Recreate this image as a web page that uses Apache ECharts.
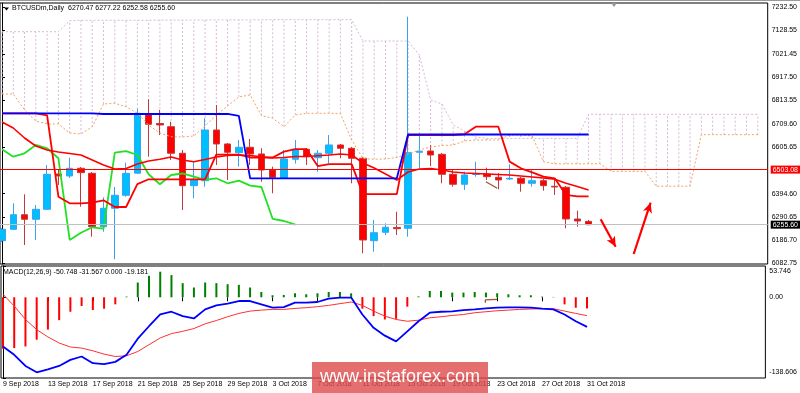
<!DOCTYPE html>
<html><head><meta charset="utf-8">
<script src="https://cdn.jsdelivr.net/npm/echarts@6/dist/echarts.min.js"></script>
<style>html,body{margin:0;padding:0;background:#fff}#c{width:800px;height:393px}</style>
</head><body><div id="c"></div>
<script>
// ---------- data ----------
const symbolTitle = 'BTCUSDm,Daily  6270.47 6277.22 6252.58 6255.60';
const macdTitle = 'MACD(12,26,9) -50.748 -31.567 0.000 -19.181';
const tickIdx = [0,4,8,12,16,20,24,28,32,36,40,44,48,52];
const tickLabels = ['9 Sep 2018','13 Sep 2018','17 Sep 2018','21 Sep 2018','25 Sep 2018','29 Sep 2018','3 Oct 2018','7 Oct 2018','11 Oct 2018','15 Oct 2018','19 Oct 2018','23 Oct 2018','27 Oct 2018','31 Oct 2018'];
const priceTicks = [7232.50,7128.55,7021.45,6917.50,6813.55,6709.60,6605.65,6394.60,6290.65,6186.70,6082.75];
const macdTicks = [53.746, 0, -138.606];
const macdTickLabels = ['53.746','0.00','-138.606'];
const resistanceLevel = 6503.08;
const bidPrice = 6255.60;

const open  = [6183.6,6234.8,6300.4,6279.8,6324.7,6483.3,6474.4,6509.0,6486.5,6246.5,6329.2,6387.6,6487.0,6751.6,6710.3,6695.9,6576.4,6430.8,6453.2,6681.1,6618.2,6579.1,6603.3,6573.2,6501.3,6464.0,6549.4,6594.3,6556.6,6576.4,6613.7,6598.8,6553.9,6183.6,6221.3,6242.9,6239.3,6580.9,6586.7,6571.9,6482.0,6437.1,6481.1,6483.3,6468.5,6460.9,6464.0,6441.5,6453.2,6428.1,6423.6,6281.1,6270.47];
const high  = [6240.7,6351.7,6392.1,6344.0,6523.8,6501.3,6556.6,6514.8,6492.3,6378.6,6424.9,6534.1,6775.5,6819.0,6771.0,6718.4,6591.2,6538.6,6733.6,6793.4,6622.7,6636.1,6640.6,6598.8,6516.2,6591.2,6636.1,6600.2,6591.2,6658.6,6618.2,6604.7,6559.7,6276.6,6261.8,6313.9,7190.3,6663.1,6613.7,6577.7,6504.5,6493.7,6538.6,6511.7,6486.5,6526.9,6469.9,6504.5,6460.9,6456.4,6429.4,6318.4,6277.22];
const low   = [6177.7,6231.7,6164.3,6186.7,6321.6,6433.9,6465.4,6336.4,6201.6,6224.0,6100.0,6381.3,6484.0,6561.1,6658.6,6546.3,6321.6,6374.2,6426.3,6523.8,6456.4,6516.2,6523.8,6448.7,6396.6,6460.9,6530.0,6523.8,6493.7,6531.4,6553.9,6441.5,6127.0,6134.2,6209.2,6209.2,6201.6,6509.0,6519.3,6441.5,6426.3,6411.4,6471.2,6456.4,6414.6,6456.4,6403.8,6426.3,6408.3,6389.0,6239.3,6246.5,6252.58];
const close = [6234.8,6300.4,6279.8,6324.7,6482.0,6474.4,6509.0,6489.2,6246.5,6329.2,6387.6,6486.5,6756.1,6706.7,6703.6,6576.4,6430.8,6456.4,6681.1,6618.2,6580.9,6603.3,6573.2,6501.3,6468.5,6550.8,6594.3,6561.1,6576.4,6613.7,6598.8,6553.9,6186.7,6219.5,6243.8,6237.5,6579.1,6585.8,6568.7,6482.0,6437.1,6478.8,6485.6,6471.2,6456.4,6464.0,6441.5,6453.2,6430.8,6424.9,6281.1,6272.1,6255.60];

const tenkan = [6756.1,6756.1,6756.1,6756.1,6747.0,6381.3,6351.7,6351.7,6355.0,6365.0,6335.0,6335.0,6437.8,6459.5,6459.5,6459.5,6459.5,6459.5,6459.5,6570.3,6570.3,6570.3,6557.5,6557.5,6557.5,6583.8,6595.0,6595.0,6518.6,6527.6,6527.6,6527.6,6392.8,6392.8,6392.8,6392.8,6658.6,6658.6,6658.6,6658.6,6658.6,6662.0,6695.8,6695.8,6695.8,6538.8,6508.8,6490.8,6471.2,6463.8,6389.0,6383.1,6383.1];
const kijun = [6756.1,6756.1,6756.1,6756.1,6756.1,6756.1,6756.1,6756.1,6756.1,6753.0,6753.0,6753.0,6753.0,6753.0,6753.0,6753.0,6753.0,6753.0,6753.0,6753.0,6753.0,6744.0,6464.0,6464.0,6464.0,6464.0,6464.0,6464.0,6464.0,6464.0,6464.0,6464.0,6464.0,6464.0,6464.0,6464.0,6660.9,6660.9,6660.9,6660.9,6660.9,6660.9,6660.9,6660.9,6660.9,6660.9,6660.9,6660.9,6660.9,6660.9,6660.9,6660.9,6660.9];
const movingAvg = [6717.0,6690.1,6645.1,6609.2,6591.2,6582.2,6575.5,6568.7,6546.3,6523.8,6505.8,6508.1,6528.3,6541.8,6549.4,6559.7,6546.3,6538.6,6548.5,6559.7,6566.5,6568.7,6566.5,6561.1,6555.2,6557.5,6562.0,6562.0,6565.6,6568.7,6573.2,6568.7,6532.8,6510.3,6483.3,6456.4,6492.3,6505.8,6508.1,6501.3,6492.3,6487.8,6485.6,6483.3,6481.1,6478.8,6474.4,6469.9,6465.4,6459.5,6441.5,6427.2,6411.4];
const spanA = [6842.9,6842.9,6771.0,6721.5,6708.1,6708.1,6667.6,6663.1,6694.6,6797.9,6801.1,6785.8,6756.1,6703.6,6666.2,6651.0,6649.6,6654.1,6699.1,6748.5,6788.9,6830.0,6838.4,6746.0,6733.7,6696.0,6748.5,6756.1,6756.1,6756.1,6755.2,6636.1,6553.0,6549.4,6550.8,6557.5,6573.2,6591.2,6604.7,6611.4,6613.7,6631.6,6636.1,6636.1,6636.1,6658.6,6658.6,6654.1,6538.6,6529.0,6529.0,6529.0,6529.0,6529.5,6495.0,6495.0,6495.0,6495.0,6428.4,6428.4,6428.4,6428.4,6660.0,6660.0,6660.0,6660.0,6660.0,6660.0];
const spanB = [7122.8,7122.8,7122.8,7122.8,7122.8,7122.8,7172.3,7174.0,7174.0,7174.0,7174.0,7174.0,7174.0,7174.0,7175.0,7175.0,7175.0,7175.0,7175.0,7176.0,7176.0,7176.0,7176.0,7176.0,7177.0,7177.0,7177.0,7177.0,7177.0,7177.0,7177.0,7177.0,7081.0,7081.0,7081.0,7081.0,7081.0,7018.1,6815.9,6797.9,6703.6,6676.6,6649.6,6643.0,6643.0,6643.0,6643.0,6643.0,6643.0,6643.0,6643.0,6643.0,6751.6,6751.6,6751.6,6751.6,6751.6,6751.6,6751.6,6751.6,6751.6,6751.6,6751.6,6751.6,6751.6,6751.6,6751.6,6751.6];
const chikouShift = 26;

const macdMain = [-84.4,-98.8,-117.9,-128.8,-123.6,-117.9,-107.5,-101.7,-113.2,-114.9,-110.9,-98.8,-71.1,-49.7,-29.5,-24.8,-32.4,-36.4,-20.8,-13.9,-10.9,-6.4,-6.4,-12.1,-17.9,-16.8,-9.2,-9.2,-8.1,-2.3,-0.5,-0.5,-29.5,-52.5,-65.9,-75.7,-58.4,-41.1,-26.5,-24.8,-24.3,-21.9,-20.8,-19.1,-17.9,-17.3,-17.3,-17.9,-19.6,-20.8,-29.5,-41.1,-50.748];
const macdSignal = [5.2,-15.0,-38.1,-55.5,-68.1,-78.5,-85.4,-87.2,-91.9,-97.6,-101.7,-100.5,-93.1,-81.5,-69.8,-62.4,-58.4,-53.7,-45.6,-39.9,-33.4,-27.7,-23.7,-22.0,-20.8,-20.8,-19.1,-17.9,-16.1,-13.9,-10.9,-8.1,-13.9,-23.7,-32.4,-38.1,-41.1,-39.3,-35.2,-33.4,-31.2,-29.5,-26.5,-24.8,-23.1,-22.0,-20.8,-20.2,-19.6,-19.6,-23.7,-27.7,-31.567];
const macdHist = [-88.4,-87.2,-84.4,-72.8,-55.5,-39.3,-24.8,-15.0,-21.9,-19.6,-12.1,1.2,25.4,36.9,43.9,38.1,24.3,16.8,25.4,24.3,22.5,21.4,16.8,9.2,3.5,4.0,6.9,5.2,6.9,9.2,9.2,6.9,-19.6,-32.3,-38.1,-37.0,-16.1,1.5,10.9,10.9,8.1,8.1,9.2,8.1,6.9,5.2,3.5,3.5,1.2,0.6,-12.1,-17.9,-19.181];

// drawn objects (data coordinates: bar index, price)
const arrowDown = [[53.07,6279.8],[54.4,6156.6]];
const arrowUp = [[56.0,6123.8],[57.5,6354.4]];
const trendMain = [[42.9,6448.7],[43.9,6419.0]];
const trendMacd = [[42.95,-9.3],[42.95,-4.6],[44.0,-3.4]];

// ---------- chart ----------
const FONT = '"Liberation Sans", Arial, sans-serif';
const XMIN = -0.177, XMAX = 67.88;
const pairs = (arr, off) => arr.map((v, i) => [i + (off || 0), v]);
const chikou = close.slice(chikouShift).map((v, i) => [i, v]);

const chart = echarts.init(document.getElementById('c'));
chart.setOption({
  animation: false,
  backgroundColor: '#fff',
  textStyle: { fontFamily: FONT },
  grid: [
    { left: 0, right: 31, top: 3, height: 261, show: true, borderColor: '#000', borderWidth: 1 },
    { left: 0, right: 31, top: 266, height: 112, show: true, borderColor: '#000', borderWidth: 1 }
  ],
  xAxis: [
    { type: 'value', gridIndex: 0, min: XMIN, max: XMAX, show: false },
    { type: 'value', gridIndex: 1, min: XMIN, max: XMAX,
      axisLine: { show: false }, splitLine: { show: false },
      axisTick: { show: true, customValues: tickIdx, length: 4, lineStyle: { color: '#000' } },
      axisLabel: { customValues: tickIdx, align: 'left', margin: 3, fontSize: 7, color: '#000', fontFamily: FONT,
        formatter: v => tickLabels[Math.round(v / 4)] } }
  ],
  yAxis: [
    { type: 'value', gridIndex: 0, position: 'right', min: 6078.8, max: 7251.8,
      splitLine: { show: false },
      axisLine: { show: true, lineStyle: { color: '#000' } },
      axisTick: { show: true, customValues: priceTicks, length: 3, lineStyle: { color: '#000' } },
      axisLabel: { customValues: priceTicks, margin: 4, fontSize: 7, color: '#000', fontFamily: FONT,
        formatter: v => v.toFixed(2) } },
    { type: 'value', gridIndex: 1, position: 'right', min: -138.606, max: 53.746,
      splitLine: { show: false },
      axisLine: { show: true, lineStyle: { color: '#000' } },
      axisTick: { show: true, customValues: macdTicks, length: 3, lineStyle: { color: '#000' } },
      axisLabel: { customValues: macdTicks, margin: 4, fontSize: 7, color: '#000', fontFamily: FONT,
        formatter: v => {
          const k = macdTicks.findIndex(t => Math.abs(t - v) < 1e-6);
          const s = macdTickLabels[k];
          return k === 0 ? '{top|' + s + '}' : (k === 2 ? '{bot|' + s + '}' : s);
        },
        rich: {
          top: { fontSize: 7, color: '#000', fontFamily: FONT, padding: [11, 0, 0, 0] },
          bot: { fontSize: 7, color: '#000', fontFamily: FONT, padding: [0, 0, 11, 0] }
        } } }
  ],
  graphic: [
    { type: 'line', shape: { x1: 0, y1: 0.5, x2: 800, y2: 0.5 }, style: { stroke: '#999', lineWidth: 1 }, silent: true },
    { type: 'polygon', shape: { points: [[611, 3], [617, 3], [614, 7]] }, style: { fill: '#999' }, silent: true },
    { type: 'polygon', shape: { points: [[4, 7.5], [9, 7.5], [6.5, 10.5]] }, style: { fill: '#000' }, silent: true },
    { type: 'text', left: 12, top: 5, style: { text: symbolTitle, font: '7px ' + FONT, fill: '#000' }, silent: true },
    { type: 'text', left: 3, top: 269, style: { text: macdTitle, font: '7px ' + FONT, fill: '#000' }, silent: true },
    { type: 'rect', shape: { x: 312, y: 362, width: 176, height: 31 }, style: { fill: 'rgba(222,74,74,0.8)' }, z: 100, silent: true },
    { type: 'text', x: 400, y: 377, z: 101, style: { text: 'www.instaforex.com', font: '18px ' + FONT, fill: '#fff', align: 'center', verticalAlign: 'middle' }, silent: true }
  ],
  series: [
    { type: 'custom', name: 'cloud', xAxisIndex: 0, yAxisIndex: 0, silent: true,
      data: spanA.map((a, i) => [i, a, spanB[i]]),
      renderItem: (params, api) => {
        const i = api.value(0), a = api.value(1), b = api.value(2);
        const p1 = api.coord([i, a]), p2 = api.coord([i, b]);
        return { type: 'line', shape: { x1: p1[0], y1: p1[1], x2: p2[0], y2: p2[1] },
          style: { stroke: b >= a ? '#D8B8D8' : '#F4A460', lineWidth: 1, lineDash: [2, 2] } };
      },
      markLine: { silent: true, symbol: ['none', 'none'], animation: false,
        data: [
          { yAxis: resistanceLevel, lineStyle: { color: '#FF0000', width: 1, type: 'solid' },
            label: { show: true, position: 'end', distance: 3, formatter: () => resistanceLevel.toFixed(2), color: '#fff', backgroundColor: '#FF0000', padding: [1, 2, 0, 2], fontSize: 7, fontFamily: FONT } },
          { yAxis: bidPrice, lineStyle: { color: '#C0C0C0', width: 1, type: 'solid' },
            label: { show: true, position: 'end', distance: 3, formatter: () => bidPrice.toFixed(2), color: '#fff', backgroundColor: '#000', padding: [1, 2, 0, 2], fontSize: 7, fontFamily: FONT } }
        ] } },
    { type: 'line', name: 'spanA', xAxisIndex: 0, yAxisIndex: 0, data: pairs(spanA), showSymbol: false, silent: true,
      lineStyle: { color: '#F4A460', width: 1, type: [2, 2] } },
    { type: 'line', name: 'spanB', xAxisIndex: 0, yAxisIndex: 0, data: pairs(spanB), showSymbol: false, silent: true,
      lineStyle: { color: '#D8B8D8', width: 1, type: [2, 2] } },
    { type: 'candlestick', name: 'BTCUSDm', xAxisIndex: 0, yAxisIndex: 0, barWidth: 7,
      data: open.map((o, i) => [i, o, close[i], low[i], high[i]]),
      itemStyle: { color: '#00BFFF', color0: '#FF0000', borderColor: '#3AA2F2', borderColor0: '#C43A3A', borderWidth: 1 } },
    { type: 'line', name: 'chikou', xAxisIndex: 0, yAxisIndex: 0, data: chikou, showSymbol: false, silent: true,
      lineStyle: { color: '#22E022', width: 1.8 } },
    { type: 'line', name: 'ma', xAxisIndex: 0, yAxisIndex: 0, data: pairs(movingAvg), showSymbol: false, silent: true,
      lineStyle: { color: '#FF0000', width: 1.6 } },
    { type: 'line', name: 'tenkan', xAxisIndex: 0, yAxisIndex: 0, data: pairs(tenkan), showSymbol: false, silent: true,
      lineStyle: { color: '#FF0000', width: 1.8 },
      markLine: { silent: true, animation: false, symbol: ['none', 'arrow'], symbolSize: [7, 10],
        lineStyle: { color: '#FF0000', width: 2.2, type: 'solid' }, label: { show: false },
        data: [
          [{ coord: arrowDown[0] }, { coord: arrowDown[1] }],
          [{ coord: arrowUp[0] }, { coord: arrowUp[1] }]
        ] } },
    { type: 'line', name: 'kijun', xAxisIndex: 0, yAxisIndex: 0, data: pairs(kijun), showSymbol: false, silent: true,
      lineStyle: { color: '#0000FF', width: 1.8 } },
    { type: 'line', name: 'trend', xAxisIndex: 0, yAxisIndex: 0, data: trendMain, showSymbol: false, silent: true,
      lineStyle: { color: '#A0522D', width: 1.3 } },
    { type: 'bar', name: 'hist', xAxisIndex: 1, yAxisIndex: 1, barWidth: 2, silent: true,
      data: pairs(macdHist),
      itemStyle: { color: p => p.value[1] >= 0 ? '#008000' : '#FF0000' } },
    { type: 'line', name: 'signal', xAxisIndex: 1, yAxisIndex: 1, data: pairs(macdSignal), showSymbol: false, silent: true,
      lineStyle: { color: '#FF3030', width: 1 } },
    { type: 'line', name: 'macd', xAxisIndex: 1, yAxisIndex: 1, data: pairs(macdMain), showSymbol: false, silent: true,
      lineStyle: { color: '#0000FF', width: 1.8 } },
    { type: 'line', name: 'trend2', xAxisIndex: 1, yAxisIndex: 1, data: trendMacd, showSymbol: false, silent: true,
      lineStyle: { color: '#A0522D', width: 1.3 } }
  ]
});
</script>
</body></html>
